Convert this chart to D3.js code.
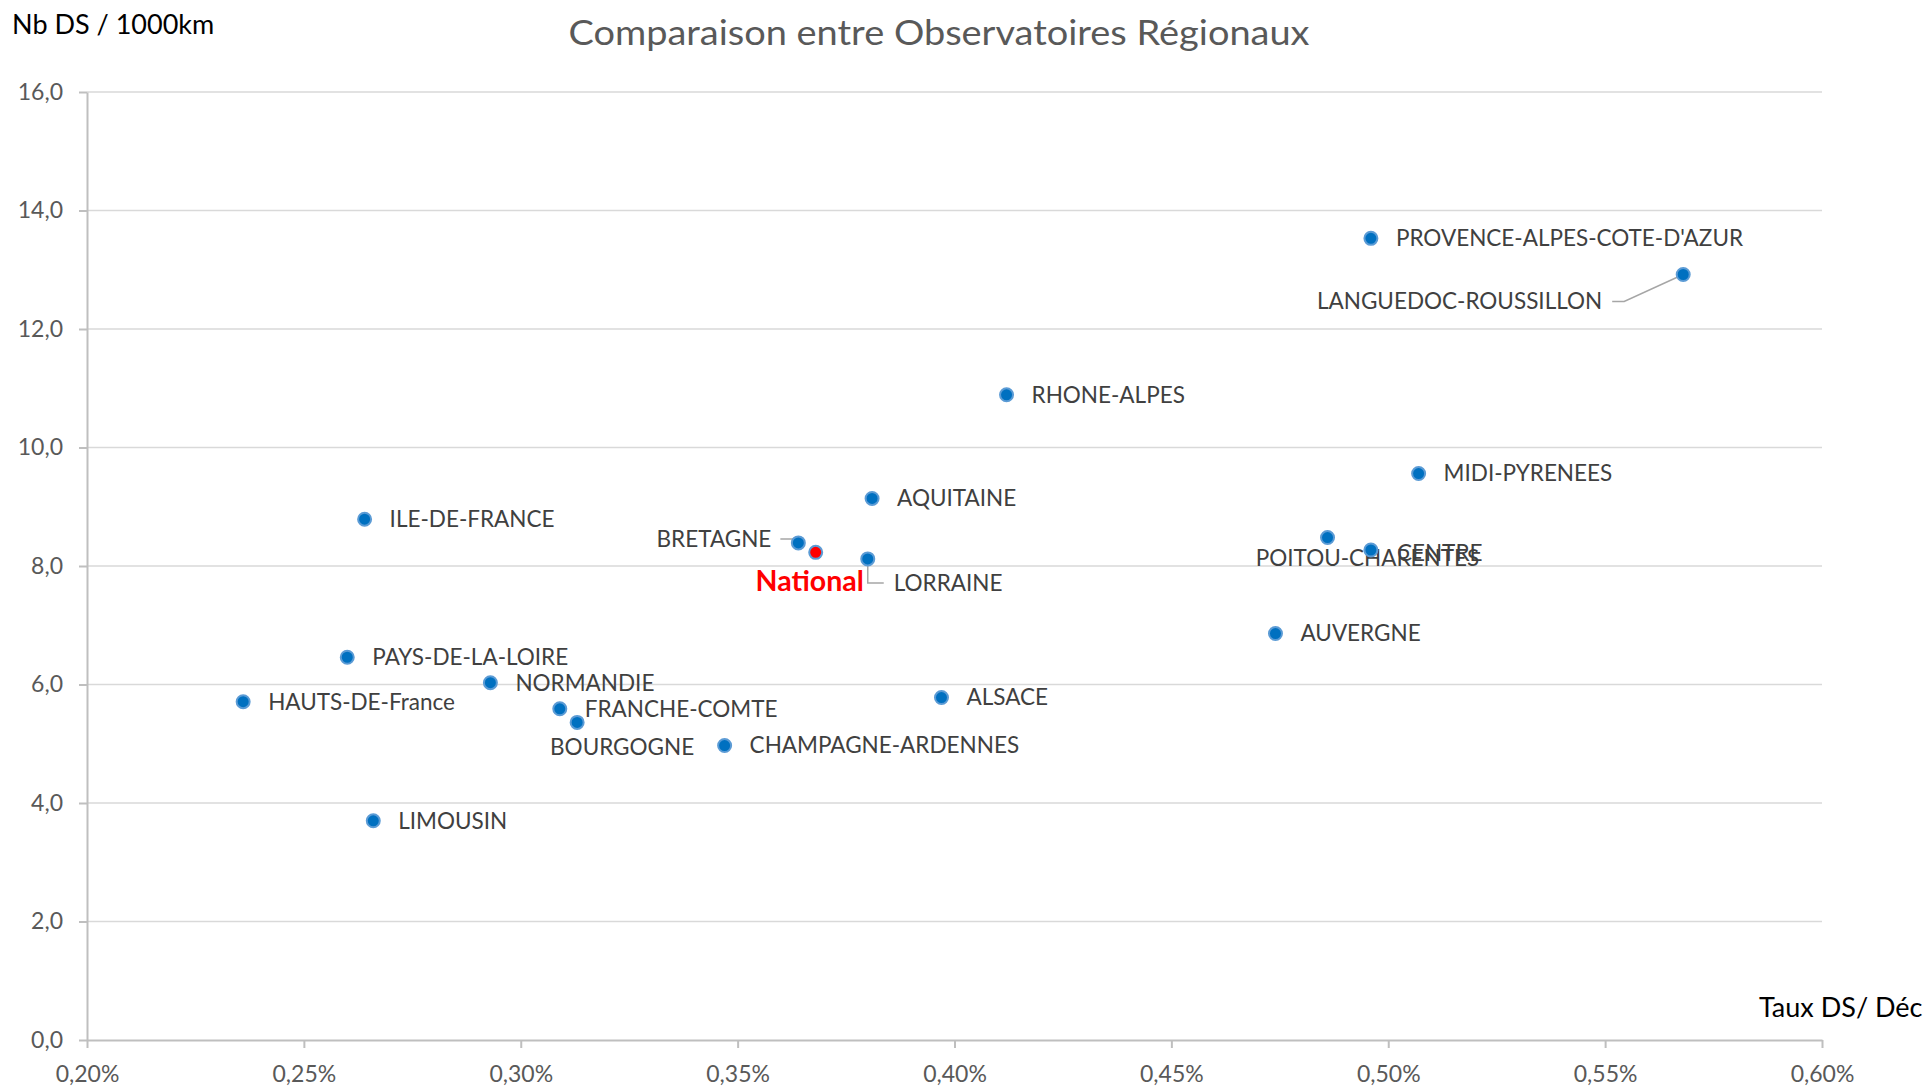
<!DOCTYPE html>
<meta charset="utf-8"/>
<style>
  html, body { margin: 0; padding: 0; background: #fff; }
  text { font-family: Lato, "Open Sans", sans-serif; }
  .grid line { stroke: #d9d9d9; stroke-width: 1.5px; }
  .axis path, .axis line { stroke: #bfbfbf; stroke-width: 2px; }
  .axis text { fill: #595959; font-size: 23px; }
  .lbl { fill: #404040; font-size: 22.5px; }
  .leader { stroke: #a6a6a6; stroke-width: 1.5px; fill: none; }
</style>
<body>
<svg width="1929" height="1086"></svg>
</body>
<script src="https://cdn.jsdelivr.net/npm/d3@7"></script>
<script>

  // regions and their values (x = Taux DS / Déc in %, y = Nb DS / 1000km)
  var regions = ["PROVENCE-ALPES-COTE-D'AZUR", "LANGUEDOC-ROUSSILLON", "RHONE-ALPES",
    "MIDI-PYRENEES", "AQUITAINE", "ILE-DE-FRANCE", "BRETAGNE", "LORRAINE",
    "POITOU-CHARENTES", "CENTRE", "AUVERGNE", "PAYS-DE-LA-LOIRE", "NORMANDIE",
    "HAUTS-DE-France", "ALSACE", "FRANCHE-COMTE", "BOURGOGNE", "CHAMPAGNE-ARDENNES",
    "LIMOUSIN"]
  var tauxDS = [0.496, 0.568, 0.412, 0.507, 0.381, 0.264, 0.364, 0.380,
    0.486, 0.496, 0.474, 0.260, 0.293, 0.236, 0.397, 0.309, 0.313, 0.347, 0.266]
  var nbDS = [13.53, 12.92, 10.89, 9.56, 9.14, 8.79, 8.39, 8.12,
    8.48, 8.27, 6.86, 6.46, 6.03, 5.71, 5.78, 5.59, 5.36, 4.97, 3.70]

  var national = { name: "National", x: 0.368, y: 8.23 }

  var xTicks = [0.20, 0.25, 0.30, 0.35, 0.40, 0.45, 0.50, 0.55, 0.60]
  var yTicks = [0, 2, 4, 6, 8, 10, 12, 14, 16]

  var svg = d3.select("svg")
  var fr = d3.formatLocale({ decimal: ",", thousands: " ", grouping: [3], currency: ["", "€"] })

  var x = d3.scaleLinear().domain([0.20, 0.60]).range([87, 1822])
  var y = d3.scaleLinear().domain([0, 16]).range([1040, 92])

  // gridlines
  svg.append("g").attr("class", "grid")
    .selectAll("line").data(yTicks.slice(1)).enter().append("line")
    .attr("x1", x(0.20)).attr("x2", x(0.60))
    .attr("y1", function (d) { return y(d) }).attr("y2", function (d) { return y(d) })

  // axes
  var xAxis = svg.append("g").attr("class", "axis")
    .attr("transform", "translate(0," + y(0) + ")")
    .call(d3.axisBottom(x).tickValues(xTicks).tickSizeInner(8).tickSizeOuter(0).tickPadding(18)
      .tickFormat(function (d) { return fr.format(".2f")(d) + "%" }))
  xAxis.selectAll("text").attr("dy", "0.71em")

  var yAxis = svg.append("g").attr("class", "axis")
    .attr("transform", "translate(" + x(0.20) + ",0)")
    .call(d3.axisLeft(y).tickValues(yTicks).tickSizeInner(8).tickSizeOuter(0).tickPadding(16)
      .tickFormat(fr.format(".1f")))

  // titles
  svg.append("text").attr("x", 939).attr("y", 45).attr("text-anchor", "middle")
    .attr("textLength", 741).attr("lengthAdjust", "spacingAndGlyphs")
    .style("font-size", "35px").style("fill", "#595959")
    .text("Comparaison entre Observatoires Régionaux")
  svg.append("text").attr("x", 12).attr("y", 34)
    .style("font-size", "27px").style("fill", "#000")
    .text("Nb DS / 1000km")
  svg.append("text").attr("x", 1759).attr("y", 1017)
    .style("font-size", "27px").style("fill", "#000")
    .text("Taux DS/ Déc")

  var pts = regions.map(function (r, i) { return { name: r, x: tauxDS[i], y: nbDS[i] } })

  // label placement (offsets from the marker, px)
  var place = {
    "LANGUEDOC-ROUSSILLON": { dx: -81, dy: 27, anchor: "end", leader: [[-71, 27], [-59, 27], [0, 0]] },
    "BRETAGNE": { dx: -27, dy: -4, anchor: "end", leader: [[-18, -4], [-4, -4], [0, 0]] },
    "LORRAINE": { dx: 26, dy: 24, anchor: "start", leader: [[0, 0], [0, 24], [16, 24]] },
    "POITOU-CHARENTES": { dx: 40, dy: 21, anchor: "middle" },
    "CENTRE": { dx: 26, dy: 3, anchor: "start" },
    "BOURGOGNE": { dx: 45, dy: 25, anchor: "middle" }
  }

  var labels = svg.append("g")
  pts.forEach(function (d) {
    var p = place[d.name] || { dx: 25, dy: 0, anchor: "start" }
    var px = x(d.x), py = y(d.y)
    if (p.leader) {
      labels.append("path").attr("class", "leader")
        .attr("d", d3.line()(p.leader.map(function (q) { return [px + q[0], py + q[1]] })))
    }
    labels.append("text").attr("class", "lbl")
      .attr("x", px + p.dx).attr("y", py + p.dy).attr("dy", "0.35em")
      .attr("text-anchor", p.anchor)
      .text(d.name)
  })

  // markers
  svg.append("g").selectAll("circle").data(pts).enter().append("circle")
    .attr("cx", function (d) { return x(d.x) })
    .attr("cy", function (d) { return y(d.y) })
    .attr("r", 6.5)
    .attr("fill", "#0070c0")
    .attr("stroke", "#5b9bd5")
    .attr("stroke-width", 2)

  svg.append("circle")
    .attr("cx", x(national.x)).attr("cy", y(national.y)).attr("r", 6.5)
    .attr("fill", "#ff0000").attr("stroke", "#5b9bd5").attr("stroke-width", 2)
  svg.append("text")
    .attr("x", x(national.x) - 6).attr("y", y(national.y) + 39)
    .attr("text-anchor", "middle")
    .style("font-size", "28.5px").style("font-weight", "bold").style("fill", "#ff0000")
    .text(national.name)

</script>
